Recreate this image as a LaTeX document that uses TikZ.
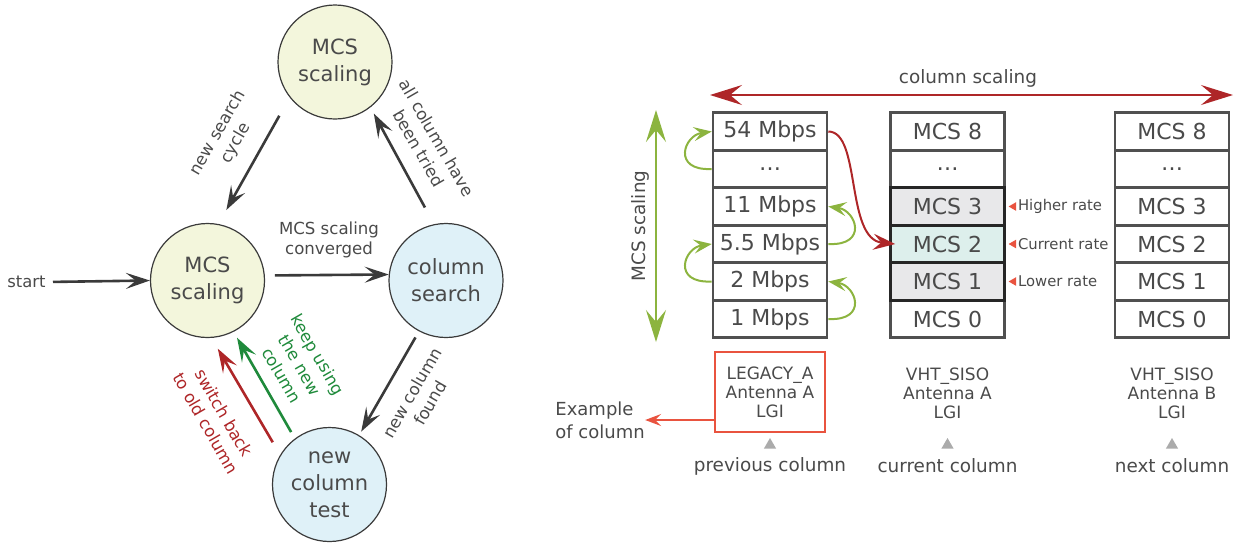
\documentclass[tikz,border=0pt]{standalone}
\usepackage{fontspec}
\setmainfont{DejaVu Sans}
\usetikzlibrary{arrows.meta,shapes.geometric,positioning}

\definecolor{txtgray}{HTML}{4A4A4A}
\definecolor{arrgray}{HTML}{3A3A3A}
\definecolor{stateyellow}{HTML}{F3F6DC}
\definecolor{stateblue}{HTML}{DFF1F8}
\definecolor{darkred}{HTML}{AE2628}
\definecolor{keepgreen}{HTML}{1F8A3B}
\definecolor{olivegreen}{HTML}{8CB43F}
\definecolor{boxred}{HTML}{E9533F}
\definecolor{hlgray}{HTML}{E8E8EA}
\definecolor{hlcyan}{HTML}{DDEFEC}
\definecolor{cellgray}{HTML}{505050}
\definecolor{trigray}{HTML}{ABABAB}

\tikzset{
  every node/.append style={text=txtgray},
  state/.style={circle, draw=arrgray, line width=0.6pt, minimum size=57pt, inner sep=0pt,
    align=center, font=\fontsize{10.5}{13.5}\selectfont},
  trans/.style={draw=arrgray, line width=1.3pt, -{Stealth[length=12pt,width=8pt,inset=5pt]}},
  lbl/.style={align=center, inner sep=0pt, font=\fontsize{8.3}{10.4}\selectfont},
  cell/.style={draw=cellgray, line width=1.3pt, minimum width=57pt, minimum height=18.75pt,
    inner sep=0pt, font=\fontsize{11}{13}\selectfont},
  ratelbl/.style={inner sep=0pt, font=\fontsize{7.4}{9}\selectfont},
  ptr/.style={regular polygon, regular polygon sides=3, shape border rotate=90, fill=boxred,
    inner sep=0pt, minimum size=5pt},
  gtri/.style={regular polygon, regular polygon sides=3, fill=trigray, inner sep=0pt, minimum size=7pt},
  collbl/.style={align=center, inner sep=0pt, font=\fontsize{8.5}{9.6}\selectfont},
  bigtip/.tip={Stealth[length=16pt,width=10pt,inset=6pt]},
  hop/.style={draw=olivegreen, line width=1pt, -{Stealth[length=9pt,width=7pt,inset=3.5pt]}},
}

\begin{document}
\begin{tikzpicture}[x=0.5pt,y=-0.5pt]
\useasboundingbox (0,0) rectangle (1237,543);

\node[state, fill=stateyellow] (mcsTop) at (335,62) {MCS\\scaling};
\node[state, fill=stateyellow] (mcsLeft) at (207.5,280.5) {MCS\\scaling};
\node[state, fill=stateblue] (colSearch) at (446,280.5) {column\\search};
\node[state, fill=stateblue] (colTest) at (329.5,484.5) {new\\column\\test};
\node[lbl, anchor=west, font=\fontsize{8.2}{9.8}\selectfont] (start) at (7,282) {start};

\draw[trans, shorten <=3.5pt] (start.east) -- (mcsLeft.west);
\draw[trans, shorten <=10.5pt, shorten >=8pt] (mcsTop.218) -- (mcsLeft.79);
\draw[trans, shorten <=9.5pt, shorten >=3.5pt] (colSearch.102) -- (mcsTop.308.5);
\draw[trans, shorten <=5pt] (mcsLeft.5.5) -- (colSearch.174.5);
\draw[trans, shorten <=3.5pt, shorten >=2pt] (colSearch.242.3) -- (colTest.59);
\draw[trans, draw=keepgreen, shorten <=3.7pt, shorten >=3.4pt] (colTest.127.8) -- (mcsLeft.297.4);
\draw[trans, draw=darkred, shorten <=7.3pt, shorten >=6.2pt] (colTest.149.6) -- (mcsLeft.274.3);

\node[lbl, rotate=60] (lNewCycle) at (227,138) {new search\\cycle};
\node[lbl, rotate=-60] (lAllTried) at (428,143) {all column have\\been tried};
\node[lbl] (lConverged) at (329,240) {MCS scaling\\converged};
\node[lbl, rotate=60] (lFound) at (421,398) {new column\\found};
\node[lbl, rotate=-60, text=keepgreen] (lKeep) at (300,365) {keep using\\the new\\column};
\node[lbl, rotate=-60, text=darkred] (lSwitch) at (215,418) {switch back\\to old column};

\coordinate (csL) at (710,95);
\coordinate (csR) at (1233,95);
\draw[draw=darkred, line width=1pt, bigtip-bigtip] (csL) -- (csR);
\node[lbl, font=\fontsize{9.2}{11}\selectfont] (lColScale) at (968,78) {column scaling};
\coordinate (msT) at (656,110);
\coordinate (msB) at (656,342);
\draw[draw=olivegreen, line width=1pt, bigtip-bigtip] (msT) -- (msB);
\node[lbl, rotate=90, font=\fontsize{9.2}{11}\selectfont] (lMcsScale) at (640,226) {MCS scaling};

\foreach \txt [count=\i] in {54 Mbps,\dots,11 Mbps,5.5 Mbps,2 Mbps,1 Mbps}
  \node[cell] (L\i) at (770,{94+37.5*\i}) {\txt};
\foreach \txt/\r/\fillc/\edge in {MCS 8/1/white/cellgray,\dots/2/white/cellgray,MCS 0/6/white/cellgray,
    MCS 3/3/hlgray/black!85,MCS 2/4/hlcyan/black!85,MCS 1/5/hlgray/black!85}
  \node[cell, fill=\fillc, draw=\edge] (M\r) at (947.5,{94+37.5*\r}) {\txt};
\foreach \txt [count=\i] in {MCS 8,\dots,MCS 3,MCS 2,MCS 1,MCS 0}
  \node[cell] (R\i) at (1172,{94+37.5*\i}) {\txt};

\draw[hop] (L2.west) .. controls +(-40,2) and +(-28,4) .. (L1.west);
\draw[hop] (L5.west) .. controls +(-40,2) and +(-28,4) .. (L4.west);
\draw[hop] (L6.east) .. controls +(40,2) and +(28,4) .. (L5.east);
\draw[hop] (L4.east) .. controls +(40,2) and +(28,4) .. (L3.east);
\draw[draw=darkred, line width=1pt, -{Stealth[length=11pt,width=8pt,inset=4pt]}]
  (L1.east) .. controls +(33,0) and +(-50,-5) .. ([xshift=3pt]M4.west);

\node[ptr, right=1pt of M3] (pHigh) {};
\node[ratelbl, right=0.6pt of pHigh] (tHigh) {Higher rate};
\node[ptr, right=1pt of M4] (pCur) {};
\node[ratelbl, right=0.6pt of pCur] (tCur) {Current rate};
\node[ptr, right=1pt of M5] (pLow) {};
\node[ratelbl, right=0.6pt of pLow] (tLow) {Lower rate};

\node[collbl, draw=boxred, line width=1pt, minimum width=55pt, minimum height=40pt] (cPrev) at (770,392) {LEGACY\_A\\Antenna A\\LGI};
\node[collbl] (cCur) at (947.5,393) {VHT\_SISO\\Antenna A\\LGI};
\node[collbl] (cNext) at (1172,393) {VHT\_SISO\\Antenna B\\LGI};
\node[lbl, align=left, anchor=west, font=\fontsize{9}{11.5}\selectfont] (example) at (555,420) {Example\\of column};
\draw[draw=boxred, line width=1pt, -{Stealth[length=8pt,width=6pt,inset=3pt]}] (cPrev.west |- example.east) -- (example.east);

\node[gtri] (gPrev) at (770,445) {};
\node[gtri] (gCur) at (947.5,445) {};
\node[gtri] (gNext) at (1172,445) {};
\node[lbl, font=\fontsize{9.2}{11}\selectfont] (nPrev) at (770,466) {previous column};
\node[lbl, font=\fontsize{9.2}{11}\selectfont] (nCur) at (947.5,466) {current column};
\node[lbl, font=\fontsize{9.2}{11}\selectfont] (nNext) at (1172,466) {next column};
\end{tikzpicture}
\end{document}
